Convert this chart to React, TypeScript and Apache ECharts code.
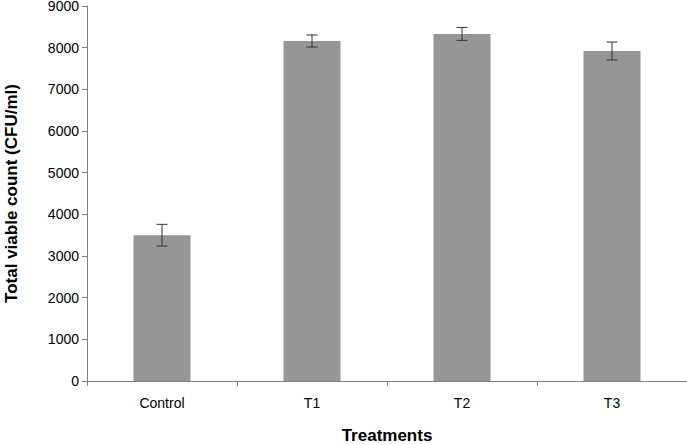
import React, { useEffect, useRef } from "react";
import * as echarts from "echarts";

const categories = ["Control", "T1", "T2", "T3"];
const values = [3500, 8160, 8330, 7920];
const errors = [260, 145, 155, 215];
const yTicks = { min: 0, max: 9000, interval: 1000 };

export default function App() {
  const ref = useRef<HTMLDivElement>(null);
  useEffect(() => {
    if (!ref.current) return;
    const chart = echarts.init(ref.current, null, { renderer: "svg" });
    const errData = categories.map((c, i) => [i, values[i] - errors[i], values[i] + errors[i]]);
    const font = "Liberation Sans, Arial, sans-serif";
    chart.setOption({
      animation: false,
      backgroundColor: "#ffffff",
      grid: { left: 87, right: 0, top: 6, bottom: 64, containLabel: false, outerBoundsMode: "none" },
      xAxis: {
        type: "category",
        data: categories,
        boundaryGap: true,
        name: "Treatments",
        nameLocation: "middle",
        nameGap: 46,
        nameTextStyle: { fontFamily: font, fontSize: 17, fontWeight: "bold", color: "#000" },
        axisLine: { lineStyle: { color: "#808080", width: 1 } },
        axisTick: { show: true, length: 5, lineStyle: { color: "#808080" }, alignWithLabel: false },
        axisLabel: { fontFamily: font, fontSize: 14, color: "#000", margin: 15 },
      },
      yAxis: {
        type: "value",
        min: yTicks.min,
        max: yTicks.max,
        interval: yTicks.interval,
        name: "Total viable count (CFU/ml)",
        nameLocation: "middle",
        nameGap: 67,
        nameTextStyle: { fontFamily: font, fontSize: 17, fontWeight: "bold", color: "#000" },
        axisLine: { show: true, lineStyle: { color: "#808080", width: 1 } },
        axisTick: { show: true, length: 5, lineStyle: { color: "#808080" } },
        splitLine: { show: false },
        axisLabel: { fontFamily: font, fontSize: 14, color: "#000", margin: 8, formatter: (v: number) => String(v) },
      },
      series: [
        {
          type: "bar",
          data: values,
          barWidth: 57,
          itemStyle: { color: "#969696" },
        },
        {
          type: "custom",
          data: errData,
          z: 10,
          renderItem: (params: any, api: any) => {
            const x = api.value(0);
            const lo = api.coord([x, api.value(1)]);
            const hi = api.coord([x, api.value(2)]);
            const cap = 5.5;
            const style = { stroke: "#333333", lineWidth: 1 };
            return {
              type: "group",
              children: [
                { type: "line", shape: { x1: hi[0], y1: hi[1], x2: lo[0], y2: lo[1] }, style },
                { type: "line", shape: { x1: hi[0] - cap, y1: hi[1], x2: hi[0] + cap, y2: hi[1] }, style },
                { type: "line", shape: { x1: lo[0] - cap, y1: lo[1], x2: lo[0] + cap, y2: lo[1] }, style },
              ],
            };
          },
        },
      ],
    });
    return () => chart.dispose();
  }, []);
  return (
    <div
      ref={ref}
      style={{ position: "fixed", left: 0, top: 0, width: 687, height: 445, background: "#fff" }}
    />
  );
}
